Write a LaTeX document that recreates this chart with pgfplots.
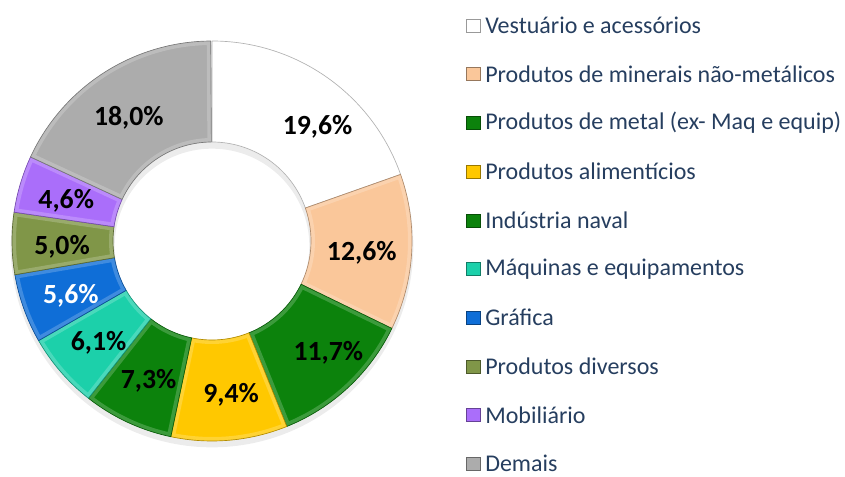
\documentclass[border=0pt]{standalone}
\usepackage{pgfplots}
\usepackage{pgfplotstable}
\usepackage{fontspec}
\setmainfont{Carlito}
\pgfplotsset{compat=1.18}

\definecolor{cVest}{RGB}{255,255,255}
\definecolor{cMin}{RGB}{250,199,154}
\definecolor{cMet}{RGB}{12,130,12}
\definecolor{cAli}{RGB}{255,200,0}
\definecolor{cNav}{RGB}{12,130,12}
\definecolor{cMaq}{RGB}{28,208,170}
\definecolor{cGra}{RGB}{15,110,215}
\definecolor{cDiv}{RGB}{128,150,72}
\definecolor{cMob}{RGB}{170,110,250}
\definecolor{cDem}{RGB}{172,172,172}
\definecolor{legtext}{RGB}{38,62,95}

\newcommand\legfont{\fontsize{18}{20}\selectfont}
\newcommand\labfont{\bfseries\fontsize{20.8}{24}\selectfont}

% share of each sector (%), starting at 12 o'clock, clockwise
% dx, dy: nudge of the data label (px)
\pgfplotstableread[col sep=comma]{
name,value,fill,label,dx,dy
Vestuário e acessórios,19.6,cVest,black,19,-8
Produtos de minerais não-metálicos,12.6,cMin,black,0,-3
Produtos de metal (ex- Maq e equip),11.7,cMet,black,14,-2
Produtos alimentícios,9.4,cAli,black,6,-4
Indústria naval,7.3,cNav,black,0,-4
Máquinas e equipamentos,6.1,cMaq,black,0,-4
Gráfica,5.6,cGra,white,0,-4
Produtos diversos,5.0,cDiv,black,0,-4
Mobiliário,4.6,cMob,black,-2,-3
Demais,18.0,cDem,black,-2,-3
}\sectors

\begin{document}
\begin{tikzpicture}
\begin{axis}[
    hide axis,
    scale only axis,
    x=0.75pt, y=0.75pt,
    xmin=0, xmax=845, ymin=0, ymax=477,
    clip=false
]
\path (axis cs:0,0) rectangle (axis cs:845,477);

\def\cx{212}\def\cy{236}
\def\Ro{200}\def\Ri{99}
% soft shadow under the ring
\fill[gray!30, opacity=0.5, even odd rule] (axis cs:\cx,\cy-5) circle[radius=151pt] (axis cs:\cx,\cy-5) circle[radius=73pt];

\def\curang{90}
\pgfplotsforeachungrouped \i in {0,...,9}{
    \pgfplotstablegetelem{\i}{value}\of\sectors \let\val\pgfplotsretval
    \pgfplotstablegetelem{\i}{fill}\of\sectors \let\clr\pgfplotsretval
    \pgfplotstablegetelem{\i}{label}\of\sectors \let\lclr\pgfplotsretval
    \pgfplotstablegetelem{\i}{name}\of\sectors \let\nm\pgfplotsretval
    \pgfplotstablegetelem{\i}{dx}\of\sectors \let\ldx\pgfplotsretval
    \pgfplotstablegetelem{\i}{dy}\of\sectors \let\ldy\pgfplotsretval
    \pgfmathsetmacro{\angA}{\curang}
    \pgfmathsetmacro{\angB}{\curang-3.6*\val}
    \pgfmathsetmacro{\angM}{(\angA+\angB)/2}
    \pgfmathsetmacro{\xo}{\cx+\Ro*cos(\angA)}
    \pgfmathsetmacro{\yo}{\cy+\Ro*sin(\angA)}
    \pgfmathsetmacro{\xi}{\cx+\Ri*cos(\angB)}
    \pgfmathsetmacro{\yi}{\cy+\Ri*sin(\angB)}
    \pgfmathsetmacro{\xm}{\cx+150*cos(\angM)+\ldx}
    \pgfmathsetmacro{\ym}{\cy+150*sin(\angM)+\ldy}
    \pgfmathsetmacro{\ly}{477-25.5-48.7*\i}
    \pgfmathprintnumberto[fixed,fixed zerofill,precision=1,use comma,assume math mode=true]{\val}{\lbl}
    \edef\slice{(axis cs:\xo,\yo) arc[start angle=\angA, end angle=\angB, radius=150pt]
            -- (axis cs:\xi,\yi) arc[start angle=\angB, end angle=\angA, radius=74.25pt] -- cycle}
    \edef\tmp{
        \noexpand\fill[fill=\clr] \slice;
        \noexpand\begin{scope}
        \noexpand\clip \slice;
        \noexpand\draw[white, opacity=0.2, line width=6pt, line join=round] \slice;
        \noexpand\end{scope}
        \noexpand\draw[\clr!70!black, line width=0.5pt, line join=round] \slice;
        \noexpand\node[text=\lclr, font=\noexpand\labfont] at (axis cs:\xm,\ym) {\lbl\noexpand\%};
        \noexpand\fill[fill=\clr, draw=\clr!60!black, line width=0.4pt]
            (axis cs:466.5,\ly-6.5) rectangle (axis cs:480,\ly+6.5);
        \noexpand\node[anchor=west, inner sep=0pt, text=legtext, font=\noexpand\legfont]
            at (axis cs:485,\ly) {\nm};
    }
    \tmp
    \let\curang\angB
}
\end{axis}
\end{tikzpicture}
\end{document}
